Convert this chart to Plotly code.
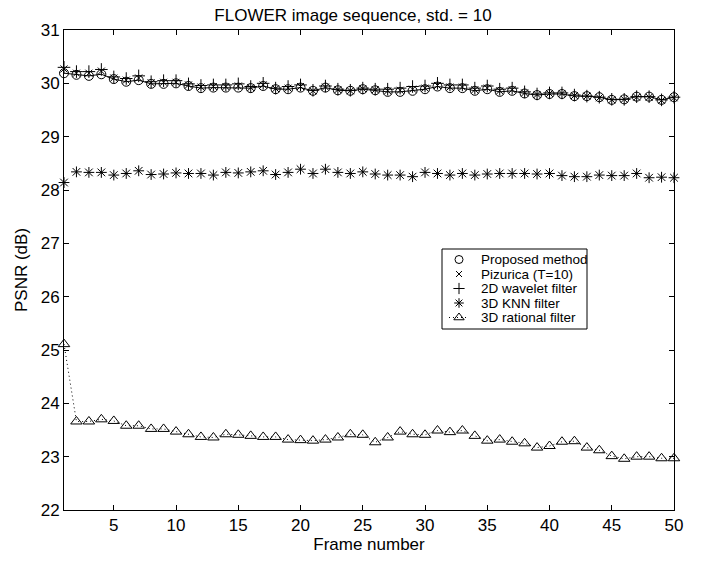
import plotly.graph_objects as go

frames = list(range(1, 51))

proposed = [30.19, 30.16, 30.14, 30.17, 30.08, 30.03, 30.06, 29.99, 29.99, 30.00,
            29.95, 29.91, 29.92, 29.92, 29.92, 29.91, 29.95, 29.89, 29.89, 29.92,
            29.86, 29.92, 29.87, 29.86, 29.89, 29.87, 29.84, 29.84, 29.86, 29.89,
            29.94, 29.91, 29.91, 29.86, 29.89, 29.84, 29.86, 29.81, 29.78, 29.80,
            29.80, 29.76, 29.76, 29.74, 29.69, 29.70, 29.75, 29.75, 29.69, 29.74]

pizurica = [30.27, 30.19, 30.19, 30.23, 30.10, 30.06, 30.10, 30.01, 30.02, 30.02,
            29.97, 29.93, 29.94, 29.94, 29.95, 29.92, 29.97, 29.90, 29.91, 29.94,
            29.86, 29.93, 29.88, 29.86, 29.90, 29.88, 29.86, 29.87, 29.89, 29.91,
            29.96, 29.93, 29.93, 29.88, 29.91, 29.86, 29.88, 29.82, 29.79, 29.81,
            29.81, 29.77, 29.76, 29.73, 29.69, 29.70, 29.74, 29.74, 29.68, 29.73]

wavelet2d = [30.30, 30.22, 30.22, 30.26, 30.12, 30.09, 30.14, 30.03, 30.05, 30.05,
             29.99, 29.96, 29.97, 29.97, 29.99, 29.94, 30.00, 29.91, 29.94, 29.97,
             29.87, 29.95, 29.89, 29.87, 29.91, 29.89, 29.89, 29.91, 29.94, 29.95,
             30.00, 29.97, 29.97, 29.91, 29.95, 29.89, 29.91, 29.84, 29.80, 29.82,
             29.82, 29.78, 29.76, 29.74, 29.70, 29.70, 29.75, 29.75, 29.69, 29.74]

knn3d = [28.14, 28.34, 28.33, 28.33, 28.28, 28.31, 28.36, 28.29, 28.30, 28.32,
         28.31, 28.31, 28.28, 28.33, 28.32, 28.34, 28.36, 28.29, 28.33, 28.39,
         28.31, 28.39, 28.33, 28.31, 28.34, 28.30, 28.28, 28.28, 28.25, 28.33,
         28.31, 28.28, 28.31, 28.28, 28.30, 28.31, 28.31, 28.31, 28.30, 28.31,
         28.27, 28.25, 28.25, 28.28, 28.27, 28.27, 28.31, 28.23, 28.24, 28.23]

rational3d = [25.11, 23.66, 23.66, 23.70, 23.67, 23.58, 23.58, 23.52, 23.52, 23.47,
              23.42, 23.37, 23.36, 23.42, 23.41, 23.39, 23.37, 23.37, 23.32, 23.31,
              23.30, 23.32, 23.36, 23.42, 23.41, 23.27, 23.36, 23.47, 23.42, 23.41,
              23.49, 23.46, 23.49, 23.39, 23.30, 23.32, 23.28, 23.25, 23.17, 23.20,
              23.28, 23.29, 23.17, 23.12, 23.01, 22.96, 23.00, 23.00, 22.97, 22.97]

series_names = ["Proposed method", "Pizurica (T=10)", "2D wavelet filter",
                "3D KNN filter", "3D rational filter"]

x_ticks = [5, 10, 15, 20, 25, 30, 35, 40, 45, 50]
y_ticks = [22, 23, 24, 25, 26, 27, 28, 29, 30, 31]

FONT = "Liberation Sans, Arial, Helvetica, sans-serif"
BLACK = "black"

# plot-area geometry (pixels)
W, H = 706, 561
PL, PR, PT, PB = 64, 674, 30, 510

styles = [
    dict(symbol="circle-open", size=9),
    dict(symbol="x-thin-open", size=7),
    dict(symbol="cross-thin-open", size=9),
    dict(symbol="asterisk-open", size=9),
    dict(symbol="triangle-up-open", size=10),
]
legend_sizes = [8, 6, 8, 8, 9]
values = [proposed, pizurica, wavelet2d, knn3d, rational3d]
DOT = "1px,3px"

fig = go.Figure()

# connecting line for the proposed method
fig.add_trace(go.Scatter(x=frames, y=proposed, mode="lines",
                         line=dict(color=BLACK, width=1),
                         showlegend=False, hoverinfo="skip", cliponaxis=False))

for name, vals, st in zip(series_names, values, styles):
    is_rat = name == "3D rational filter"
    fig.add_trace(go.Scatter(
        x=frames, y=vals, name=name,
        mode="lines+markers" if is_rat else "markers",
        line=dict(color=BLACK, width=1, dash=DOT),
        marker=dict(symbol=st["symbol"], size=st["size"], color=BLACK,
                    line=dict(color=BLACK, width=1)),
        cliponaxis=False, showlegend=False))

# ---- custom legend drawn in a pixel-space overlay axis ----
LEG_X0, LEG_X1, LEG_Y0, LEG_Y1 = 442, 587, 249, 329
LEG_SYM_X, LEG_TXT_X = 459, 479
LEG_ROW0, LEG_DY = 259.5, 14.5

fig.add_shape(type="rect", xref="x2", yref="y2",
              x0=LEG_X0, x1=LEG_X1, y0=LEG_Y0, y1=LEG_Y1,
              line=dict(color=BLACK, width=1), fillcolor="white", layer="below")

for i, (name, st, ls) in enumerate(zip(series_names, styles, legend_sizes)):
    ry = LEG_ROW0 + i * LEG_DY
    if name == "3D rational filter":
        fig.add_trace(go.Scatter(x=[LEG_SYM_X - 10, LEG_SYM_X + 10], y=[ry, ry],
                                 xaxis="x2", yaxis="y2", mode="lines",
                                 line=dict(color=BLACK, width=1, dash=DOT),
                                 showlegend=False, hoverinfo="skip", cliponaxis=False))
    fig.add_trace(go.Scatter(x=[LEG_SYM_X], y=[ry], xaxis="x2", yaxis="y2", mode="markers",
                             marker=dict(symbol=st["symbol"], size=ls,
                                         color=BLACK, line=dict(color=BLACK, width=1)),
                             showlegend=False, hoverinfo="skip", cliponaxis=False))
    fig.add_annotation(x=LEG_TXT_X, y=ry, xref="x2", yref="y2", text=name,
                       showarrow=False, xanchor="left", yanchor="middle",
                       font=dict(family=FONT, size=13.5, color=BLACK))

axis_common = dict(
    showgrid=False, zeroline=False,
    showline=True, linecolor=BLACK, linewidth=1, mirror="ticks",
    ticks="inside", ticklen=5, tickwidth=1, tickcolor=BLACK,
    tickfont=dict(family=FONT, size=17, color=BLACK),
)

fig.update_layout(
    width=W, height=H,
    margin=dict(l=PL, r=W - PR, t=PT, b=H - PB),
    paper_bgcolor="white", plot_bgcolor="white",
    font=dict(family=FONT, size=17, color=BLACK),
    title=dict(text="FLOWER image sequence, std. = 10",
               font=dict(family=FONT, size=17, color=BLACK),
               x=0.5, xref="container", xanchor="center",
               y=1 - 15 / H, yref="container", yanchor="middle"),
    xaxis=dict(range=[1, 50], tickvals=x_ticks, ticktext=[str(v) for v in x_ticks],
               title=dict(text="Frame number", font=dict(family=FONT, size=17, color=BLACK),
                          standoff=2),
               **axis_common),
    yaxis=dict(range=[22, 31], tickvals=y_ticks, ticktext=[str(v) for v in y_ticks],
               title=dict(text="PSNR (dB)", font=dict(family=FONT, size=17, color=BLACK),
                          standoff=8),
               **axis_common),
    xaxis2=dict(overlaying="x", range=[PL, PR], visible=False, fixedrange=True),
    yaxis2=dict(overlaying="y", range=[PB, PT], visible=False, fixedrange=True),
    showlegend=False,
)

fig.write_html("out.html")
